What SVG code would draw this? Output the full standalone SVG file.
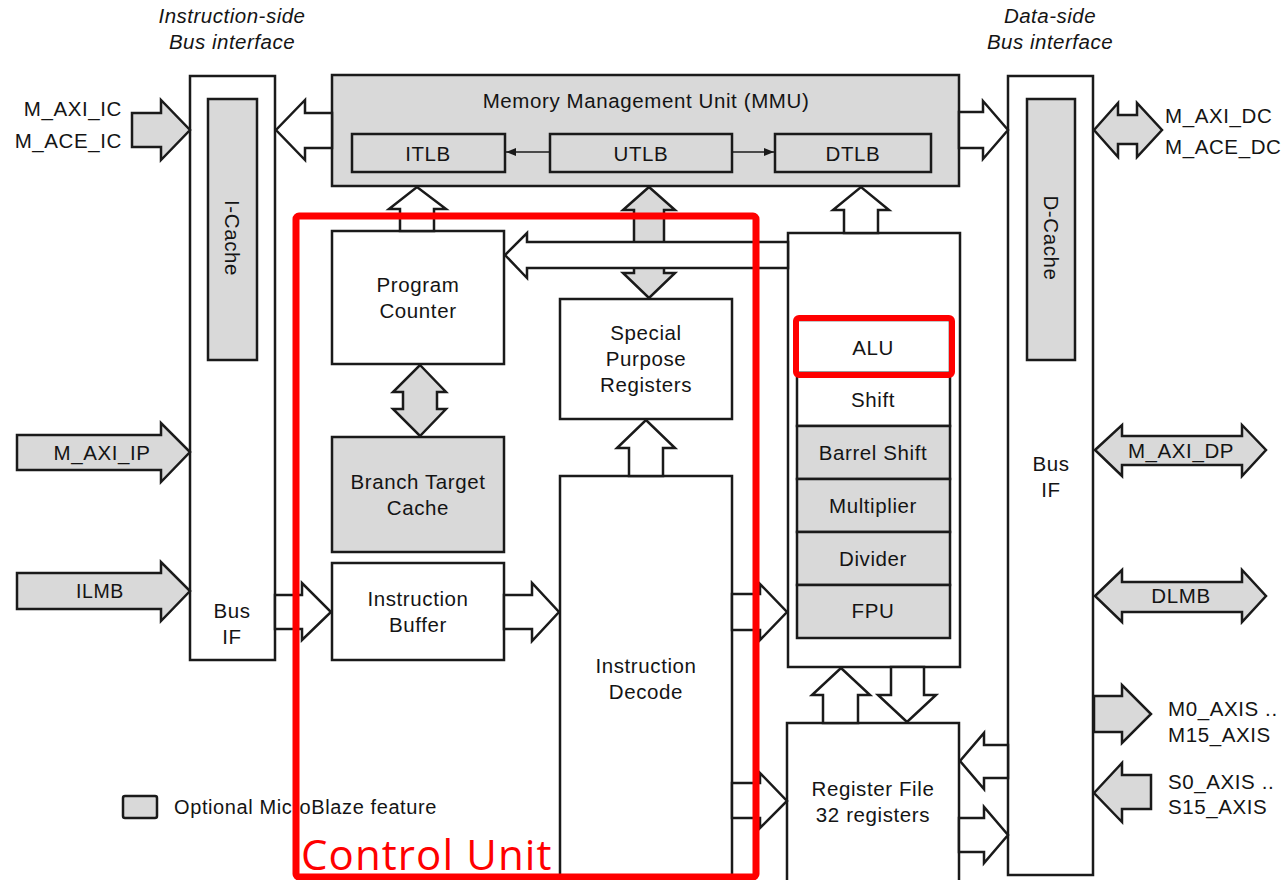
<svg xmlns="http://www.w3.org/2000/svg" width="1287" height="880" viewBox="0 0 1287 880">
<style>
.bx{stroke:#1a1a1a;stroke-width:2.5;fill:#fff}
.gy{stroke:#1a1a1a;stroke-width:2.5;fill:#d9d9d9}
.wa{stroke:#1a1a1a;stroke-width:2.5;fill:#fff;stroke-linejoin:miter}
.ga{stroke:#1a1a1a;stroke-width:2.5;fill:#d9d9d9;stroke-linejoin:miter}
.t{font-family:"Liberation Sans",Arial,sans-serif;font-size:20.5px;letter-spacing:0.6px;fill:#141414;text-anchor:middle;dominant-baseline:central}
.tl{font-family:"Liberation Sans",Arial,sans-serif;font-size:20.5px;letter-spacing:0.6px;fill:#141414;dominant-baseline:central}
.it{font-family:"Liberation Sans",Arial,sans-serif;font-size:20.5px;letter-spacing:0.5px;font-style:italic;fill:#141414;text-anchor:middle;dominant-baseline:central}
.red{fill:none;stroke:#ff0000;stroke-width:7}
</style>
<defs>
<marker id="ah" viewBox="0 0 10 10" refX="10" refY="5" markerWidth="10" markerHeight="10" markerUnits="userSpaceOnUse" orient="auto">
<path d="M0,1 L10,5 L0,9 Z" fill="#1a1a1a"/>
</marker>
</defs>
<rect width="1287" height="880" fill="#fff"/>

<text class="it" x="232" y="15">Instruction-side</text>
<text class="it" x="232" y="41">Bus interface</text>
<text class="it" x="1050" y="15">Data-side</text>
<text class="it" x="1050" y="41">Bus interface</text>

<g id="ibus">
<rect class="bx" x="190" y="76" width="85" height="584"/>
<rect class="gy" x="208" y="99" width="49" height="261"/>
<text class="t" transform="translate(232,238) rotate(90)">I-Cache</text>
<text class="t" x="232" y="610">Bus</text>
<text class="t" x="232" y="636">IF</text>
</g>

<g id="dbus">
<rect class="bx" x="1008" y="76" width="85" height="799"/>
<rect class="gy" x="1027" y="99" width="48" height="261"/>
<text class="t" transform="translate(1051,238) rotate(90)">D-Cache</text>
<text class="t" x="1051" y="463">Bus</text>
<text class="t" x="1051" y="489">IF</text>
</g>

<g id="mmu">
<rect class="gy" x="332" y="75" width="627" height="111"/>
<text class="t" x="646" y="100">Memory Management Unit (MMU)</text>
<rect class="gy" x="352" y="134" width="153" height="38"/>
<text class="t" x="428" y="153">ITLB</text>
<rect class="gy" x="550" y="134" width="182" height="38"/>
<text class="t" x="641" y="153">UTLB</text>
<rect class="gy" x="775" y="134" width="156" height="38"/>
<text class="t" x="853" y="153">DTLB</text>
</g>

<g id="pc">
<rect class="bx" x="332" y="231" width="172" height="133"/>
<text class="t" x="418" y="284">Program</text>
<text class="t" x="418" y="310">Counter</text>
</g>
<g id="btc">
<rect class="gy" x="332" y="437" width="172" height="115"/>
<text class="t" x="418" y="481">Branch Target</text>
<text class="t" x="418" y="507">Cache</text>
</g>
<g id="ibuf">
<rect class="bx" x="332" y="563" width="172" height="97"/>
<text class="t" x="418" y="598">Instruction</text>
<text class="t" x="418" y="624">Buffer</text>
</g>
<g id="spr">
<rect class="bx" x="560" y="299" width="172" height="120"/>
<text class="t" x="646" y="332">Special</text>
<text class="t" x="646" y="358">Purpose</text>
<text class="t" x="646" y="384">Registers</text>
</g>
<g id="decode">
<rect class="bx" x="560" y="476" width="172" height="410"/>
<text class="t" x="646" y="665">Instruction</text>
<text class="t" x="646" y="691">Decode</text>
</g>

<g id="exec">
<rect class="bx" x="788" y="233" width="172" height="434"/>
<rect class="bx" x="797" y="320" width="153" height="53"/>
<text class="t" x="873" y="347">ALU</text>
<rect class="bx" x="797" y="373" width="153" height="53"/>
<text class="t" x="873" y="399">Shift</text>
<rect class="gy" x="797" y="426" width="153" height="53"/>
<text class="t" x="873" y="452">Barrel Shift</text>
<rect class="gy" x="797" y="479" width="153" height="53"/>
<text class="t" x="873" y="505">Multiplier</text>
<rect class="gy" x="797" y="532" width="153" height="53"/>
<text class="t" x="873" y="558">Divider</text>
<rect class="gy" x="797" y="585" width="153" height="53"/>
<text class="t" x="873" y="610">FPU</text>
</g>

<g id="regfile">
<rect class="bx" x="787" y="723" width="172" height="165"/>
<text class="t" x="873" y="788">Register File</text>
<text class="t" x="873" y="814">32 registers</text>
</g>

<g id="connectors">
<line x1="550" y1="152" x2="506" y2="152" stroke="#1a1a1a" stroke-width="1.5" marker-end="url(#ah)"/>
<line x1="732" y1="152" x2="774" y2="152" stroke="#1a1a1a" stroke-width="1.5" marker-end="url(#ah)"/>

<polygon class="ga" points="132,113 161,113 161,100 190,130 161,160 161,147 132,147"/>
<polygon class="wa" points="332,113 305,113 305,100 276,130 305,160 305,148 332,148"/>
<polygon class="wa" points="959,112 983,112 983,101 1008,130 983,159 983,148 959,148"/>
<polygon class="ga" points="1094,130 1118,103 1118,115 1137,115 1137,103 1162,130 1137,157 1137,144 1118,144 1118,157"/>
<polygon class="ga" points="17,435 161,435 161,423 190,452 161,482 161,470 17,470"/>
<polygon class="ga" points="17,573 161,573 161,562 190,591 161,621 161,609 17,609"/>
<polygon class="wa" points="275,595 302,595 302,583 331,612 302,640 302,629 275,629"/>
<polygon class="wa" points="400,231 400,209 389,209 417,187 446,209 434,209 434,231"/>
<polygon class="ga" points="649,187 675,210 664,210 664,273 675,273 649,298 623,273 634,273 634,210 623,210"/>
<polygon class="wa" points="788,242 527,242 527,233 505,255 527,278 527,268 788,268"/>
<polygon class="ga" points="420,365 446,392 437,392 437,409 446,409 420,436 393,409 403,409 403,392 393,392"/>
<polygon class="wa" points="629,476 629,448 617,448 646,420 675,448 663,448 663,476"/>
<polygon class="wa" points="504,595 532,595 532,583 559,612 532,641 532,629 504,629"/>
<polygon class="wa" points="732,594 760,594 760,584 787,612 760,640 760,630 732,630"/>
<polygon class="wa" points="732,783 760,783 760,773 787,801 760,828 760,818 732,818"/>
<polygon class="wa" points="844,233 844,210 833,210 861,187 889,210 878,210 878,233"/>
<polygon class="wa" points="823,723 823,695 812,695 841,668 870,695 858,695 858,723"/>
<polygon class="wa" points="891,667 891,695 878,695 907,722 936,695 924,695 924,667"/>
<polygon class="wa" points="1008,745 984,745 984,733 960,761 984,789 984,778 1008,778"/>
<polygon class="wa" points="959,818 984,818 984,807 1008,835 984,863 984,852 959,852"/>
<polygon class="ga" points="1095,450 1122,425 1122,436 1242,436 1242,425 1266,450 1242,476 1242,465 1122,465 1122,476"/>
<polygon class="ga" points="1095,596 1122,570 1122,582 1242,582 1242,570 1266,596 1242,622 1242,612 1122,612 1122,622"/>
<polygon class="ga" points="1094,696 1122,696 1122,685 1151,714 1122,743 1122,732 1094,732"/>
<polygon class="ga" points="1094,793 1122,763 1122,775 1151,775 1151,809 1122,809 1122,822"/>
</g>

<g id="labels">
<text class="tl" x="122" y="108" text-anchor="end">M_AXI_IC</text>
<text class="tl" x="122" y="140" text-anchor="end">M_ACE_IC</text>
<text class="tl" x="1165" y="115">M_AXI_DC</text>
<text class="tl" x="1165" y="146">M_ACE_DC</text>
<text class="t" x="102" y="452">M_AXI_IP</text>
<text class="t" x="100" y="591" style="font-size:19.5px">ILMB</text>
<text class="t" x="1181" y="450">M_AXI_DP</text>
<text class="t" x="1181" y="595">DLMB</text>
<text class="tl" x="1168" y="708">M0_AXIS ..</text>
<text class="tl" x="1168" y="734">M15_AXIS</text>
<text class="tl" x="1168" y="781">S0_AXIS ..</text>
<text class="tl" x="1168" y="806">S15_AXIS</text>
</g>

<g id="legend">
<rect class="gy" x="123" y="796" width="34" height="22" rx="2"/>
<text class="tl" x="174" y="807" style="font-size:20px">Optional MicroBlaze feature</text>
</g>

<g id="control-unit">
<rect class="red" x="296" y="216" width="460" height="661" rx="3"/>
<text x="301" y="870" style="font-family:'Open Sans','Liberation Sans',sans-serif;font-size:42px;letter-spacing:1.1px;fill:#ff0000">Control Unit</text>
</g>
<g id="alu-highlight">
<rect x="796" y="318" width="156" height="57" rx="3" fill="none" stroke="#ff0000" stroke-width="6"/>
</g>
</svg>
